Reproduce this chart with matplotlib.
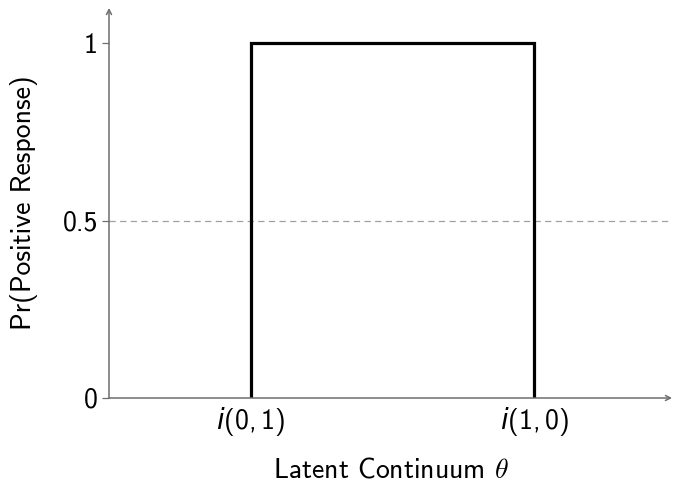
import matplotlib
matplotlib.use("Agg")
import matplotlib.pyplot as plt

# step response: zero outside the interval, one inside
theta = [1, 1, 3, 3]
prob = [0, 1, 1, 0]
x_ticks = [1, 3]
x_tick_labels = [r"$i$(0,$\,$1)", r"$i$(1,$\,$0)"]
y_ticks = [0, 0.5, 1]
y_tick_labels = ["0", "0.5", "1"]
half_line = 0.5

plt.rcParams["font.family"] = ["cmss10", "DejaVu Sans"]
plt.rcParams["mathtext.fontset"] = "cm"
plt.rcParams["axes.unicode_minus"] = False

fig = plt.figure(figsize=(6.74, 4.82), dpi=100)
ax = fig.add_axes([109 / 674, 84 / 482, (672 - 109) / 674, (398 - 8) / 482])

axis_col = "#6e6e6e"

ax.plot(theta, prob, color="black", lw=2.3, solid_joinstyle="miter", zorder=3)
ax.axhline(half_line, color="#a0a0a0", lw=0.9, ls=(0, (5, 3.5)), zorder=1)

xmax, ymax = 3.97, 1.1
ax.set_xlim(0, xmax)
ax.set_ylim(0, ymax)
for s in ax.spines.values():
    s.set_visible(False)

# axes with open arrow heads
arrow = dict(arrowstyle="->,head_length=0.35,head_width=0.18", color=axis_col,
             lw=1.1, shrinkA=0, shrinkB=0)
ax.annotate("", xy=(xmax, 0), xytext=(0, 0), arrowprops=arrow, annotation_clip=False)
ax.annotate("", xy=(0, ymax), xytext=(0, 0), arrowprops=arrow, annotation_clip=False)

ax.set_xticks(x_ticks)
ax.set_xticklabels(x_tick_labels, fontsize=20, math_fontfamily="dejavusans")
ax.set_yticks(y_ticks)
ax.set_yticklabels(y_tick_labels, fontsize=20)
ax.tick_params(axis="x", length=0, pad=5)
ax.tick_params(axis="y", length=5, width=0.9, color=axis_col, pad=3)

ax.set_xlabel(r"Latent Continuum $\theta$", fontsize=20, labelpad=14)
ax.set_ylabel("Pr(Positive Response)", fontsize=20, labelpad=18)

fig.savefig("out.png", dpi=100)
